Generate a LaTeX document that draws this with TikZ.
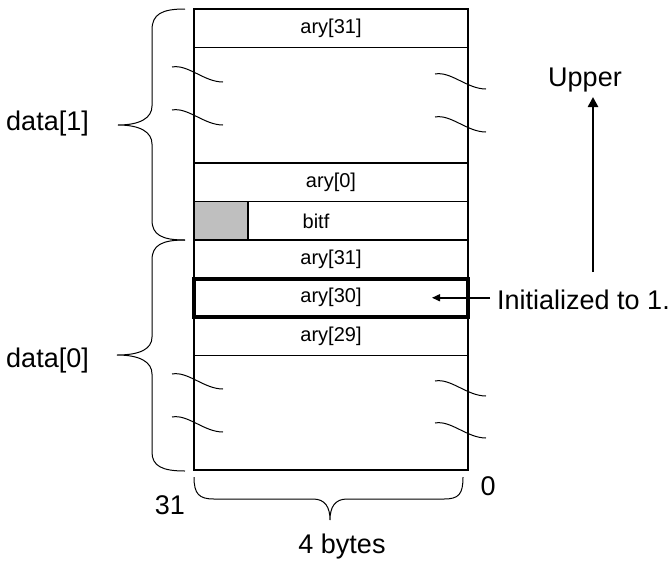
\documentclass[tikz,border=0pt]{standalone}
\usepackage{fontspec}
\setmainfont{Liberation Sans}
\usetikzlibrary{arrows.meta}
\tikzset{
  rowbox/.style={draw, line width=1.2pt, minimum width=274pt, minimum height=38.5pt,
    inner sep=0pt, outer sep=0pt, anchor=north west, font=\fontsize{20}{24}\selectfont},
  bigtext/.style={font=\fontsize{27}{32}\selectfont, inner sep=0pt},
  bracestyle/.style={line width=1pt},
  wavy/.pic={\draw[line width=1pt] (0,0) .. controls (16,-3) and (32,15) .. (51,15);}
}
\begin{document}
\begin{tikzpicture}[x=1pt,y=-1pt]
\useasboundingbox (0,0) rectangle (671,560);
% shaded part of bitf row
\fill[black!25] (194,201.5) rectangle (248,240);
% rows
\node[rowbox] (r31a) at (194,9) {ary[31]};
\node[rowbox, minimum height=115.5pt] (gapa) at (194,47.5) {};
\node[rowbox] (r0) at (194,163) {ary[0]};
\node[rowbox] (bitfrow) at (194,201.5) {};
\node[rowbox] (r31b) at (194,240) {ary[31]};
\node[rowbox] (r30) at (194,278.5) {ary[30]};
\node[rowbox] (r29) at (194,317) {ary[29]};
\node[rowbox, minimum height=114.5pt] (gapb) at (194,355.5) {};
\draw[line width=1.2pt] (248,201.5) -- (248,240);
\node[font=\fontsize{20}{24}\selectfont, inner sep=0pt] (bitftxt) at (316,221) {bitf};
% thick highlight
\draw[line width=4pt] (r30.north west) rectangle (r30.south east);
% wavy break marks
\pic at (172,67) {wavy};
\pic at (172,110) {wavy};
\pic at (435,74) {wavy};
\pic at (435,117) {wavy};
\pic at (172,374) {wavy};
\pic at (172,417) {wavy};
\pic at (435,381) {wavy};
\pic at (435,423) {wavy};
% left braces
\draw[bracestyle] (185,9) .. controls (162,9) and (152,14) .. (152,30) -- (152,106)
  .. controls (152,118) and (140,125) .. (118,125)
  .. controls (140,125) and (152,132) .. (152,144) -- (152,220)
  .. controls (152,235) and (162,240) .. (185,240);
\draw[bracestyle] (185,240) .. controls (162,240) and (152,245) .. (152,260) -- (152,337)
  .. controls (152,349) and (140,355) .. (117,355)
  .. controls (140,355) and (152,362) .. (152,374) -- (152,452)
  .. controls (152,466) and (162,471) .. (185,471);
% bottom brace
\draw[bracestyle] (194,477) .. controls (194,494) and (199,499) .. (214,499) -- (313,499)
  .. controls (325,499) and (330,507) .. (330,520)
  .. controls (330,507) and (335,499) .. (347,499) -- (444,499)
  .. controls (459,499) and (463,494) .. (463,477);
% labels
\node[bigtext, anchor=east] (d1) at (89,124) {data[1]};
\node[bigtext, anchor=east] (d0) at (89,361) {data[0]};
\node[bigtext] (n31) at (170,505) {31};
\node[bigtext] (n0) at (488,486) {0};
\node[bigtext] (bytes) at (342,547) {4 bytes};
\node[bigtext] (upper) at (585,80) {Upper};
\node[bigtext, anchor=west] (init) at (497,300) {Initialized to 1.};
% arrows
\coordinate (upstart) at (593,272);
\coordinate (uptip) at (593,97);
\draw[line width=2.5pt, -{Triangle[length=10pt,width=10pt]}] (upstart) -- (uptip);
\draw[line width=1.5pt, -{Triangle[length=8pt,width=7pt]}] ([xshift=-7pt]init.west |- r30.center) -- ([xshift=-36pt]r30.east);
\end{tikzpicture}
\end{document}
